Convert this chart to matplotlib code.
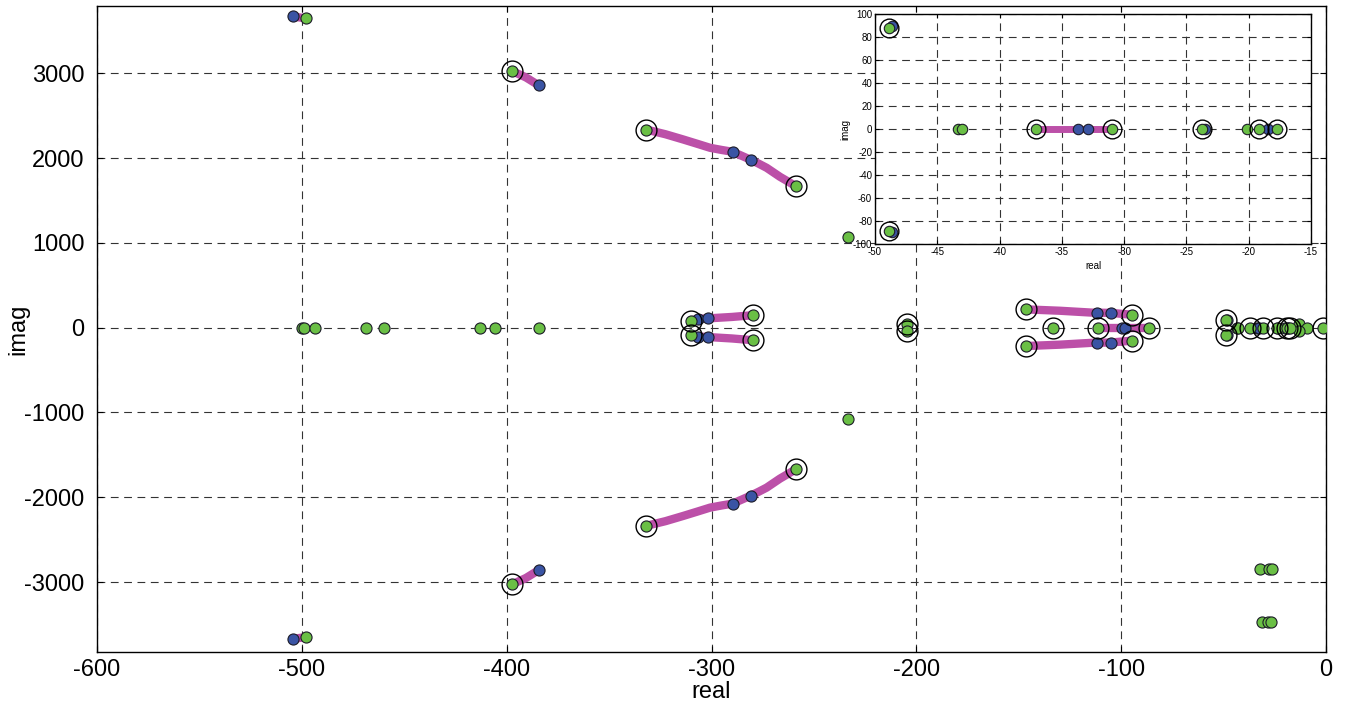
"""Pole locus of the closed loop, full view plus a zoom on the slow poles."""
import numpy as np
from matplotlib import pyplot as plt

plt.rcParams['font.family'] = ['Liberation Sans', 'DejaVu Sans']
plt.rcParams['axes.unicode_minus'] = False

MAGENTA = '#bc50a8'
BLUE = '#3a54a4'
GREEN = '#6abf45'
EDGE = '#1c1c28'

# Locus branches, upper half plane (drawn again mirrored below the axis).
branch_a_re = [-504.4, -498.0]
branch_a_im = [3672, 3648]
branch_b_re = [-397.3, -390.6, -384.3]
branch_b_im = [3027, 2952, 2858]
branch_c_re = [-332.0, -322.5, -313.8, -306.8, -300.7, -294.9, -289.7,
               -280.9, -277.0, -273.1, -266.6, -262.5, -258.9]
branch_c_im = [2338, 2282, 2220, 2168, 2122, 2096, 2075,
               1981, 1935, 1886, 1780, 1722, 1669]
branch_d_re = [-310.0, -306.5, -301.8, -290.0, -279.6]
branch_d_im = [85, 105, 110, 127, 148]
branch_e_re = [-146.3, -129.9, -113.6, -111.7, -105.1, -94.9]
branch_e_im = [216, 200, 177, 177, 175, 153]
# Branches on the real axis.
branch_f_re = [-111.2, -98.1, -86.3]
branch_g_re = [-37.1, -33.7, -30.95]

# Starting poles (blue), upper half plane and real axis.
blue_re = [-504.4, -384.3, -289.7, -280.9, -306.5, -301.8, -111.7, -105.1,
           -99.8, -98.1, -48.6, -33.68, -32.88, -23.5, -18.46]
blue_im = [3672, 2858, 2075, 1981, 105, 110, 177, 175,
           0, 0, 89.6, 0, 0, 0, 0]

# Final poles (green).
green_re = [-498.0, -500.0, -499.0, -493.6, -468.7, -460.0, -413.0, -405.8,
            -384.3, -233.4, -43.36, -43.04, -20.1, -13.0, -9.1]
green_im = [3648, 0, 0, 0, 0, 0, 0, 0,
            0, 1075, 0, 0, 0, 40, 0]
# Final poles without a conjugate partner.
lone_re = [-32.2, -27.7, -26.2, -31.4, -28.2, -27.0]
lone_im = [-2845, -2845, -2845, -3467, -3467, -3467]

# Dominant final poles, marked with a ring.
ring_re = [-397.3, -332.0, -258.9, -310.0, -279.6, -204.7, -146.3, -94.9,
           -133.4, -111.2, -86.3, -48.88, -37.1, -30.95, -23.72, -19.2,
           -17.7, -1.3]
ring_im = [3027, 2338, 1669, 85, 148, 40, 216, 153,
           0, 0, 0, 88.1, 0, 0, 0, 0,
           0, 0]


def mirror(re, im):
    """Add the complex conjugates of the off-axis points."""
    re = np.asarray(re, float)
    im = np.asarray(im, float)
    off = im != 0
    return np.r_[re, re[off]], np.r_[im, -im[off]]


def draw_locus(ax, lw, ms, ring_ms):
    branches = [
        (branch_a_re, branch_a_im), (branch_b_re, branch_b_im),
        (branch_c_re, branch_c_im), (branch_d_re, branch_d_im),
        (branch_e_re, branch_e_im),
    ]
    for re, im in branches:
        im = np.asarray(im, float)
        for sign in (1, -1):
            ax.plot(re, sign * im, color=MAGENTA, lw=lw,
                    solid_capstyle='round', solid_joinstyle='round', zorder=2)
    for re in (branch_f_re, branch_g_re):
        ax.plot(re, np.zeros(len(re)), color=MAGENTA, lw=lw,
                solid_capstyle='round', zorder=2)

    kw = dict(ls='none', marker='o', ms=ms, mec=EDGE, mew=0.8, zorder=3)
    ax.plot(*mirror(blue_re, blue_im), mfc=BLUE, **kw)
    ax.plot(*mirror(green_re, green_im), mfc=GREEN, **kw)
    ax.plot(lone_re, lone_im, mfc=GREEN, **kw)
    ax.plot(*mirror(ring_re, ring_im), mfc=GREEN, **kw)
    ax.plot(*mirror(ring_re, ring_im), ls='none', marker='o', ms=ring_ms,
            mfc='none', mec='black', mew=1.0, zorder=4)


def style_axes(ax, size):
    ax.grid(True, color='0.2', lw=0.8, ls=(0, (7, 5)))
    ax.set_axisbelow(True)
    ax.tick_params(direction='in', top=True, right=True, labelsize=size,
                   length=4)
    for spine in ax.spines.values():
        spine.set_linewidth(1.0)


fig = plt.figure(figsize=(13.46, 7.04), dpi=100)

ax = fig.add_axes([0.0721, 0.0739, 0.9131, 0.9176])
draw_locus(ax, lw=6, ms=8, ring_ms=15)
ax.set_xlim(-600, 0)
ax.set_ylim(-3825, 3795)
ax.set_xticks(np.arange(-600, 1, 100))
ax.set_yticks(np.arange(-3000, 3001, 1000))
style_axes(ax, 17)
ax.tick_params(axis='y', pad=9)
ax.tick_params(axis='x', pad=5)
ax.set_xlabel('real', fontsize=17, va='center')
ax.xaxis.set_label_coords(0.5, -0.062)
ax.set_ylabel('imag', fontsize=17, va='center')
ax.yaxis.set_label_coords(-0.064, 0.5)

inset = fig.add_axes([0.650, 0.653, 0.324, 0.327], zorder=5)
draw_locus(inset, lw=5, ms=7.5, ring_ms=13.5)
inset.set_xlim(-50, -15)
inset.set_ylim(-100, 100)
inset.set_xticks(np.arange(-50, -14, 5))
inset.set_yticks(np.arange(-100, 101, 20))
style_axes(inset, 7)
inset.tick_params(length=3, pad=2)
inset.set_xlabel('real', fontsize=7, labelpad=3)
inset.set_ylabel('imag', fontsize=7, labelpad=2)

fig.savefig('out.png', dpi=100)
